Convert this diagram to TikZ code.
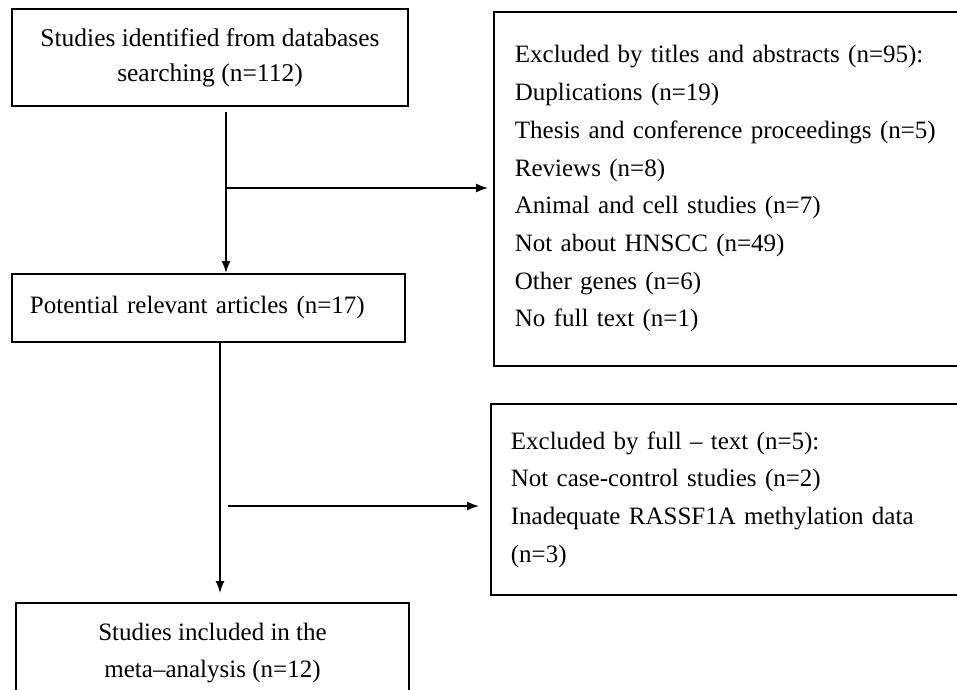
\documentclass[tikz,border=0pt]{standalone}
\usepackage{fontspec}
\setmainfont{Liberation Serif}
\usepackage{tikz}
\usetikzlibrary{positioning,calc,arrows.meta}

\tikzset{
	flowbox/.style={draw=black, line width=1.8pt, rectangle, font=\fontsize{25}{37.7}\selectfont},
	flowarrow/.style={draw=black, line width=1.5pt, -{Latex[length=12pt,width=9pt]}}
}

\begin{document}
\begin{tikzpicture}[x=1pt,y=-1pt]
		\useasboundingbox (0,0) rectangle (957,689);
		\clip (0,0) rectangle (957,689);
		\node [flowbox, minimum width=396, minimum height=97, align=center, font=\fontsize{25.5}{35}\selectfont] (search) at (210,57.5) {Studies identified from databases\\searching (n=112)};
		\node [flowbox, anchor=north west, inner xsep=21pt, text width=440pt, minimum height=354, align=left] (titles) at (493,11) {Excluded by titles and abstracts (n=95):\\Duplications (n=19)\\Thesis and conference proceedings (n=5)\\Reviews (n=8)\\Animal and cell studies (n=7)\\Not about HNSCC (n=49)\\Other genes (n=6)\\No full text (n=1)};
		\node [flowbox, anchor=north west, inner xsep=18pt, text width=357pt, minimum height=68, align=left] (potential) at (11,273) {Potential relevant articles (n=17)};
		\node [flowbox, anchor=north west, inner xsep=20pt, text width=450pt, minimum height=191, align=left] (fulltext) at (490,403) {Excluded by full -- text (n=5):\\Not case-control studies (n=2)\\Inadequate RASSF1A methylation data\\(n=3)};
		\node [flowbox, anchor=north, minimum width=393, inner ysep=20pt, align=center, font=\fontsize{25}{37}\selectfont] (included) at (212.5,602) {Studies included in the\\meta--analysis (n=12)};
		\coordinate (s1) at (226,112);
		\coordinate (b1) at (226,188);
		\coordinate (s2) at (220,341);
		\coordinate (b2) at (228,506);
		\draw [flowarrow] (s1) -- (s1 |- potential.north);
		\draw [flowarrow, shorten >=5pt] (b1) -- (b1 -| titles.west);
		\draw [flowarrow, shorten >=9pt] (s2) -- (s2 |- included.north);
		\draw [flowarrow, shorten >=11pt] (b2) -- (b2 -| fulltext.west);
	\end{tikzpicture}
\end{document}
